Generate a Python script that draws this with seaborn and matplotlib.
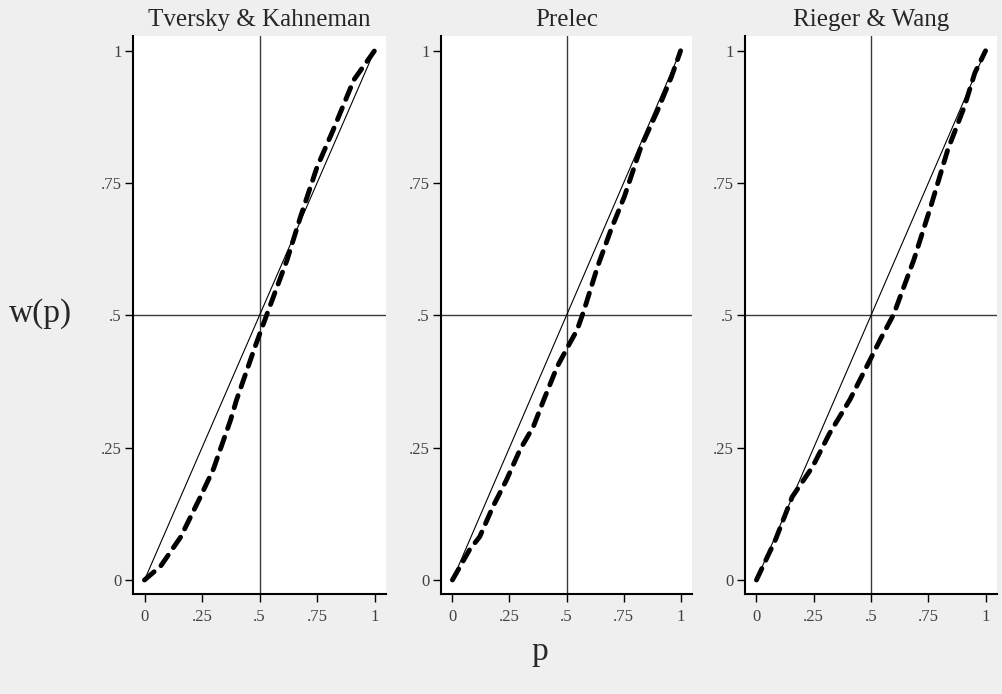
import numpy as np
import pandas as pd
import seaborn as sns
import matplotlib
matplotlib.use("Agg")
import matplotlib.pyplot as plt

# panel titles
titles = ["Tversky & Kahneman", "Prelec", "Rieger & Wang"]

# 45 degree reference (solid thin line)
diag_p = [0, 0.25, 0.5, 0.75, 1.0]
diag_w = [0, 0.25, 0.5, 0.75, 1.0]

# estimated weighting functions
tk_p = [0, 0.07, 0.157, 0.243, 0.30, 0.374, 0.40, 0.48, 0.533, 0.62, 0.678, 0.75, 0.82, 0.91, 1.0]
tk_w = [0, 0.026, 0.081, 0.157, 0.21, 0.302, 0.34, 0.44, 0.503, 0.605, 0.686, 0.78, 0.85, 0.945, 1.0]

pr_p = [0, 0.075, 0.12, 0.178, 0.237, 0.296, 0.355, 0.40, 0.459, 0.51, 0.547, 0.577, 0.636,
        0.695, 0.754, 0.827, 0.90, 0.96, 1.0]
pr_w = [0, 0.057, 0.082, 0.139, 0.189, 0.246, 0.29, 0.34, 0.403, 0.444, 0.473, 0.51, 0.592,
        0.662, 0.725, 0.819, 0.888, 0.951, 1.0]

rw_p = [0, 0.083, 0.156, 0.245, 0.319, 0.407, 0.496, 0.54, 0.599, 0.687, 0.761, 0.835, 0.908, 0.953, 1.0]
rw_w = [0, 0.076, 0.157, 0.214, 0.277, 0.34, 0.416, 0.454, 0.502, 0.605, 0.706, 0.813, 0.895, 0.958, 1.0]

ticks = [0, 0.25, 0.5, 0.75, 1]
tick_labels = ["0", ".25", ".5", ".75", "1"]

W, H = 1002, 694
# left edge, width of each plot region in pixels
boxes = [(133, 253), (441, 251), (745, 252)]
TOP, BOTTOM = 36, 594


def draw_panel(ax, p, w, title):
    sns.lineplot(x=diag_p, y=diag_w, ax=ax, color="black", lw=0.8, sort=False)
    sns.lineplot(x=p, y=w, ax=ax, color="black", lw=3.5, sort=False,
                 linestyle=(0, (2.6, 1.9)), dash_capstyle="round")
    ax.axvline(0.5, color="#3a3a3a", lw=1.0, zorder=0)
    ax.axhline(0.5, color="#3a3a3a", lw=1.0, zorder=0)

    ax.set_xlim(-0.05, 1.05)
    ax.set_ylim(-0.0265, 1.028)
    ax.set_xticks(ticks)
    ax.set_xticklabels(tick_labels)
    ax.set_yticks(ticks)
    ax.set_yticklabels(tick_labels)
    ax.tick_params(direction="out", length=6, width=1.0, colors="black",
                   labelcolor="#404040", labelsize=12)
    ax.tick_params(axis="x", pad=5)
    ax.tick_params(axis="y", pad=2)
    ax.set_xlabel("")
    ax.set_ylabel("")
    ax.set_title(title, fontsize=18, pad=7)
    for side in ["top", "right"]:
        ax.spines[side].set_visible(False)
    for side in ["left", "bottom"]:
        ax.spines[side].set_linewidth(1.5)
        ax.spines[side].set_color("black")
    ax.set_facecolor("white")


def main():
    sns.set_style("ticks")
    plt.rcParams["font.family"] = ["Liberation Serif", "DejaVu Serif"]

    fig = plt.figure(figsize=(W / 100, H / 100), dpi=100, facecolor="#efefef")

    curves = [(tk_p, tk_w), (pr_p, pr_w), (rw_p, rw_w)]
    for (left, width), (p, w), title in zip(boxes, curves, titles):
        ax = fig.add_axes([left / W, (H - BOTTOM) / H, width / W, (BOTTOM - TOP) / H])
        draw_panel(ax, p, w, title)

    fig.text(41 / W, 1 - 314 / H, "w(p)", fontsize=24, ha="center", va="center")
    fig.text(540 / W, 1 - 652 / H, "p", fontsize=24, ha="center", va="center")

    fig.savefig("out.png", dpi=100, facecolor=fig.get_facecolor())


if __name__ == '__main__':
    main()
